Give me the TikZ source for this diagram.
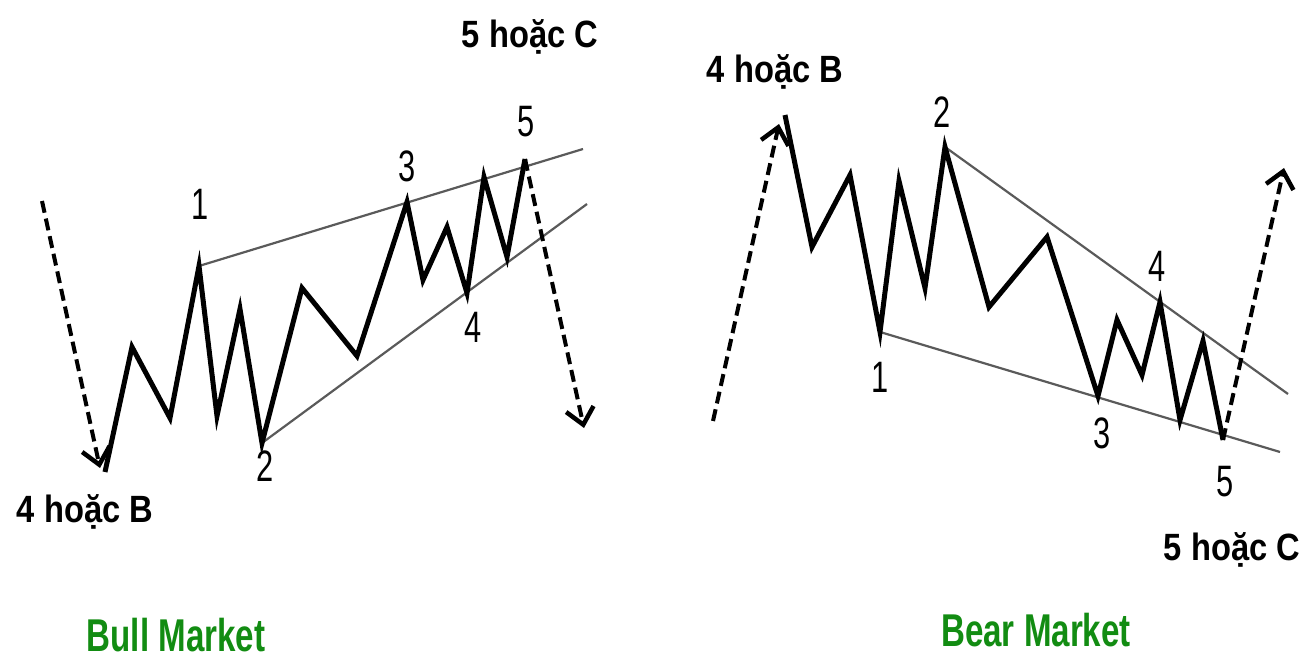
\documentclass[tikz,border=0pt]{standalone}
\usepackage{fontspec}
\setmainfont{Liberation Sans}
\usetikzlibrary{arrows.meta}
\definecolor{mktgreen}{RGB}{18,140,18}
\definecolor{chan}{RGB}{90,90,90}
\tikzset{
  wave/.style={line width=5pt, line join=miter, miter limit=10},
  chanline/.style={line width=2.2pt, draw=chan},
  dasharrow/.style={line width=4pt, dash pattern=on 12pt off 6pt, -{Straight Barb[length=16pt,width=28pt,line width=4.5pt]}},
  bigtxt/.style={anchor=base, inner sep=0pt, font=\fontsize{38}{42}\selectfont\bfseries},
  num/.style={anchor=base, inner sep=0pt, font=\fontsize{44}{48}\selectfont},
  mkt/.style={anchor=base, inner sep=0pt, text=mktgreen, font=\fontsize{46}{50}\selectfont\bfseries}
}
\newcommand{\nrw}[1]{\scalebox{0.7}[1]{#1}}
\newcommand{\cnd}[1]{\scalebox{0.72}[1]{#1}}
\newcommand{\lbl}[1]{\scalebox{0.86}[1]{#1}}
\begin{document}
\begin{tikzpicture}[x=1pt,y=-1pt]
\useasboundingbox (0,0) rectangle (1307,660);
% ---------- Bull market ----------
\coordinate (a0) at (105,472);
\coordinate (a1) at (132,347);
\coordinate (a2) at (170,418);
\coordinate (a3) at (199,266);
\coordinate (a4) at (217,416);
\coordinate (a5) at (240,309);
\coordinate (a6) at (262,443);
\coordinate (a7) at (302,288);
\coordinate (a8) at (357,356);
\coordinate (a9) at (407,202);
\coordinate (a10) at (423,280);
\coordinate (a11) at (447,227);
\coordinate (a12) at (467,293);
\coordinate (a13) at (484,177);
\coordinate (a14) at (507,257);
\coordinate (a15) at (525,159);
\coordinate (bu) at (583,149);
\coordinate (bl) at (587,204);
\coordinate (ds1) at (42,201);
\coordinate (de1) at (100,468);
\coordinate (de2) at (584,428);
\draw[chanline] (a3) -- (bu);
\draw[chanline] (a6) -- (bl);
\draw[wave] (a0) -- (a1) -- (a2) -- (a3) -- (a4) -- (a5) -- (a6) -- (a7) -- (a8) -- (a9) -- (a10) -- (a11) -- (a12) -- (a13) -- (a14) -- (a15);
\draw[dasharrow] (ds1) -- (de1);
\draw[dasharrow] (a15) -- (de2);
\node[bigtxt] (t5c) at (530,48) {\lbl{5 hoặc C}};
\node[bigtxt] (t4b) at (85,522) {\lbl{4 hoặc B}};
\node[num] (n1) at (200,220) {\nrw{1}};
\node[num] (n2) at (265,481) {\nrw{2}};
\node[num] (n3) at (407,182) {\nrw{3}};
\node[num] (n4) at (473,343) {\nrw{4}};
\node[num] (n5) at (526,137) {\nrw{5}};
\node[mkt] (bull) at (176,651) {\cnd{Bull Market}};
% ---------- Bear market ----------
\coordinate (b0) at (785,115);
\coordinate (b1) at (812,247);
\coordinate (b2) at (850,175);
\coordinate (b3) at (880,332);
\coordinate (b4) at (899,181);
\coordinate (b5) at (925,288);
\coordinate (b6) at (945,147);
\coordinate (b7) at (989,307);
\coordinate (b8) at (1047,237);
\coordinate (b9) at (1098,396);
\coordinate (b10) at (1117,320);
\coordinate (b11) at (1142,375);
\coordinate (b12) at (1160,302);
\coordinate (b13) at (1180,420);
\coordinate (b14) at (1203,341);
\coordinate (b15) at (1223,440);
\coordinate (cu) at (1288,394);
\coordinate (cl) at (1280,452);
\coordinate (ds3) at (713,421);
\coordinate (de3) at (779,124);
\coordinate (de4) at (1284,168);
\draw[chanline] (b6) -- (cu);
\draw[chanline] (b3) -- (cl);
\draw[wave] (b0) -- (b1) -- (b2) -- (b3) -- (b4) -- (b5) -- (b6) -- (b7) -- (b8) -- (b9) -- (b10) -- (b11) -- (b12) -- (b13) -- (b14) -- (b15);
\draw[dasharrow] (ds3) -- (de3);
\draw[dasharrow] (b15) -- (de4);
\node[bigtxt] (r4b) at (775,83) {\lbl{4 hoặc B}};
\node[bigtxt] (r5c) at (1232,560) {\lbl{5 hoặc C}};
\node[num] (m2) at (942,128) {\nrw{2}};
\node[num] (m1) at (880,392) {\nrw{1}};
\node[num] (m3) at (1102,448) {\nrw{3}};
\node[num] (m4) at (1157,282) {\nrw{4}};
\node[num] (m5) at (1225,496) {\nrw{5}};
\node[mkt] (bear) at (1036,646) {\cnd{Bear Market}};
\end{tikzpicture}
\end{document}
